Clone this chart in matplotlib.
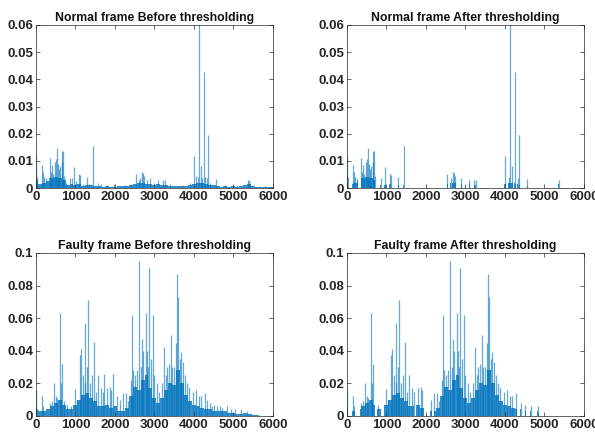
import numpy as np
import matplotlib.pyplot as plt

# =====================================================
# Data
# =====================================================

# noise floor, sampled every 100 points
floor_x = list(range(0, 6001, 100))

normal_floor = [0.003, 0.0015, 0.002, 0.0025, 0.0035, 0.004, 0.0038, 0.003, 0.0012, 0.0015,
                0.0012, 0.0015, 0.0008, 0.001, 0.0012, 0.0008, 0.0006, 0.0005, 0.0006, 0.0004,
                0.0005, 0.0006, 0.0008, 0.0009, 0.0012, 0.0015, 0.0018, 0.002, 0.0016, 0.0014,
                0.0012, 0.0013, 0.0012, 0.001, 0.0008, 0.0007, 0.0008, 0.0009, 0.0008, 0.001,
                0.0015, 0.002, 0.0018, 0.0015, 0.0012, 0.001, 0.0007, 0.0005, 0.0006, 0.0005,
                0.0006, 0.0005, 0.0007, 0.0012, 0.0015, 0.0008, 0.0005, 0.0004, 0.0003, 0.0002,
                0.0002]

faulty_floor = [0.004, 0.003, 0.003, 0.004, 0.006, 0.008, 0.01, 0.007, 0.004, 0.004,
                0.007, 0.01, 0.013, 0.014, 0.011, 0.009, 0.006, 0.006, 0.007, 0.005,
                0.006, 0.003, 0.003, 0.005, 0.012, 0.018, 0.016, 0.022, 0.025, 0.017,
                0.011, 0.008, 0.011, 0.016, 0.02, 0.019, 0.028, 0.02, 0.013, 0.009,
                0.007, 0.006, 0.005, 0.004, 0.004, 0.003, 0.003, 0.003, 0.003, 0.002,
                0.002, 0.0015, 0.0015, 0.002, 0.001, 0.0006, 0.0003, 0.0002, 0.0001, 0.0001,
                0.0001]

# spikes
normal_peak_x = [0, 20, 150, 180, 210, 260, 330, 360, 390, 410, 440, 470, 500, 530, 560,
                 590, 620, 650, 670, 690, 720, 760, 850, 920, 970, 1010, 1080, 1110, 1180, 1300,
                 1340, 1440, 1560, 1640, 1800, 1980, 2250, 2400, 2540, 2600, 2630, 2680, 2710, 2740, 2800,
                 2900, 3000, 3100, 3230, 3260, 3400, 3700, 3900, 4010, 4060, 4100, 4140, 4180, 4210, 4250,
                 4290, 4320, 4370, 4420, 4560, 4800, 5100, 5360, 5390, 5420, 5800]
normal_peak_h = [0.0118, 0.004, 0.0083, 0.006, 0.004, 0.0035, 0.004, 0.0112, 0.006, 0.0085, 0.005, 0.0095, 0.0105, 0.0148, 0.009,
                 0.007, 0.0082, 0.0138, 0.0095, 0.0138, 0.0045, 0.002, 0.0038, 0.0035, 0.0078, 0.0025, 0.005, 0.0048, 0.0015, 0.004,
                 0.0015, 0.0154, 0.002, 0.0015, 0.0012, 0.0015, 0.0012, 0.0015, 0.0052, 0.003, 0.0035, 0.0058, 0.0055, 0.0045, 0.003,
                 0.0035, 0.002, 0.003, 0.003, 0.0028, 0.0015, 0.0012, 0.0018, 0.0118, 0.0045, 0.004, 0.063, 0.008, 0.0035, 0.0428,
                 0.004, 0.0035, 0.0195, 0.002, 0.0032, 0.001, 0.001, 0.003, 0.0028, 0.002, 0.0008]

faulty_peak_x = [0, 150, 180, 350, 400, 450, 500, 540, 610, 640, 670, 720, 780, 880, 990,
                 1050, 1120, 1150, 1190, 1230, 1250, 1300, 1320, 1370, 1420, 1470, 1520, 1580, 1640, 1690,
                 1730, 1800, 1870, 1910, 1960, 2040, 2130, 2210, 2290, 2330, 2400, 2430, 2470, 2520, 2560,
                 2605, 2650, 2690, 2720, 2780, 2820, 2840, 2870, 2910, 2955, 3000, 3060, 3120, 3200, 3245,
                 3290, 3330, 3370, 3420, 3450, 3500, 3540, 3575, 3595, 3640, 3680, 3730, 3780, 3830, 3880,
                 3990, 4050, 4120, 4180, 4270, 4330, 4400, 4460, 4520, 4590, 4650, 4720, 4830, 4950, 5050,
                 5200, 5340, 5450]
faulty_peak_h = [0.016, 0.0123, 0.006, 0.008, 0.009, 0.0204, 0.012, 0.011, 0.0634, 0.02, 0.0319, 0.009, 0.007, 0.006, 0.0164,
                 0.01, 0.0372, 0.0413, 0.025, 0.02, 0.057, 0.03, 0.0712, 0.02, 0.025, 0.0452, 0.015, 0.0254, 0.017, 0.015,
                 0.026, 0.017, 0.018, 0.016, 0.0255, 0.012, 0.01, 0.0143, 0.0143, 0.009, 0.022, 0.062, 0.028, 0.025, 0.028,
                 0.095, 0.03, 0.047, 0.04, 0.063, 0.04, 0.03, 0.091, 0.035, 0.062, 0.025, 0.02, 0.015, 0.02, 0.0423,
                 0.025, 0.03, 0.032, 0.0495, 0.03, 0.03, 0.045, 0.0873, 0.073, 0.035, 0.039, 0.033, 0.025, 0.02, 0.018,
                 0.015, 0.016, 0.012, 0.012, 0.014, 0.01, 0.008, 0.006, 0.007, 0.006, 0.006, 0.005, 0.006, 0.004, 0.004,
                 0.004, 0.003, 0.002]

# regions that survive thresholding
normal_keep = [(0, 20), (130, 270), (350, 720), (840, 870), (950, 990), (1060, 1120), (1290, 1320),
               (1420, 1450), (2530, 2560), (2610, 2640), (2670, 2750), (2890, 2920), (3090, 3120),
               (3220, 3270), (3990, 4030), (4070, 4200), (4240, 4270), (4300, 4330), (4360, 4390),
               (4550, 4580), (5350, 5380)]
faulty_keep = [(0, 30), (120, 200), (340, 700), (760, 850), (930, 1690), (1760, 1950), (2100, 2160),
               (2200, 4310), (4380, 4420), (4500, 4540), (4630, 4670), (4810, 4860)]
full_keep = [(0, 6000)]

x_ticks = [0, 1000, 2000, 3000, 4000, 5000, 6000]
x_labels = ['0', '1000', '2000', '3000', '4000', '5000', '6000']
normal_y_ticks = [0, 0.01, 0.02, 0.03, 0.04, 0.05, 0.06]
normal_y_labels = ['0', '0.01', '0.02', '0.03', '0.04', '0.05', '0.06']
faulty_y_ticks = [0, 0.02, 0.04, 0.06, 0.08, 0.1]
faulty_y_labels = ['0', '0.02', '0.04', '0.06', '0.08', '0.1']

titles = ['Normal frame Before thresholding', 'Normal frame After thresholding',
          'Faulty frame Before thresholding', 'Faulty frame After thresholding']

BLUE = '#0072BD'
DARK = '#262626'

plt.rcParams['font.family'] = ['Liberation Sans', 'DejaVu Sans']


def in_keep(x, keep):
    return any(a <= x <= b for a, b in keep)


def draw_panel(ax, floor_y, peak_x, peak_h, keep, y_ticks, y_labels, title):
    # noise floor as narrow bars, cut to the kept regions
    lefts, widths, heights = [], [], []
    for x, h in zip(floor_x, floor_y):
        for a, b in keep:
            lo = max(x - 50, a)
            hi = min(x + 50, b)
            if hi > lo:
                lefts.append(lo)
                widths.append(hi - lo)
                heights.append(h)
    ax.bar(lefts, heights, width=widths, align='edge', color=BLUE, linewidth=0, alpha=0.8)

    # spikes
    px = [x for x in peak_x if in_keep(x, keep)]
    ph = [h for x, h in zip(peak_x, peak_h) if in_keep(x, keep)]
    ax.vlines(px, 0, ph, colors=BLUE, linewidth=0.9, alpha=0.6)

    ax.set_xlim(0, 6000)
    ax.set_ylim(0, y_ticks[-1])
    ax.set_xticks(x_ticks)
    ax.set_xticklabels(x_labels, fontweight='bold')
    ax.set_yticks(y_ticks)
    ax.set_yticklabels(y_labels, fontweight='bold')
    ax.tick_params(direction='in', length=3, width=0.5, colors=DARK,
                   labelsize=9.5, top=True, right=True, pad=2)
    for s in ax.spines.values():
        s.set_linewidth(0.5)
        s.set_color(DARK)
    ax.set_title(title, fontsize=8.8, fontweight='bold', pad=3, color='#111111')


fig = plt.figure(figsize=(5.95, 4.34), dpi=100)

ax1 = fig.add_axes([0.0605, 0.5668, 0.398, 0.3756])
ax2 = fig.add_axes([0.5832, 0.5668, 0.398, 0.3756])
ax3 = fig.add_axes([0.0605, 0.0415, 0.398, 0.3756])
ax4 = fig.add_axes([0.5832, 0.0415, 0.398, 0.3756])

draw_panel(ax1, normal_floor, normal_peak_x, normal_peak_h, full_keep,
           normal_y_ticks, normal_y_labels, titles[0])
draw_panel(ax2, normal_floor, normal_peak_x, normal_peak_h, normal_keep,
           normal_y_ticks, normal_y_labels, titles[1])
draw_panel(ax3, faulty_floor, faulty_peak_x, faulty_peak_h, full_keep,
           faulty_y_ticks, faulty_y_labels, titles[2])
draw_panel(ax4, faulty_floor, faulty_peak_x, faulty_peak_h, faulty_keep,
           faulty_y_ticks, faulty_y_labels, titles[3])

fig.savefig('out.png', dpi=100)
